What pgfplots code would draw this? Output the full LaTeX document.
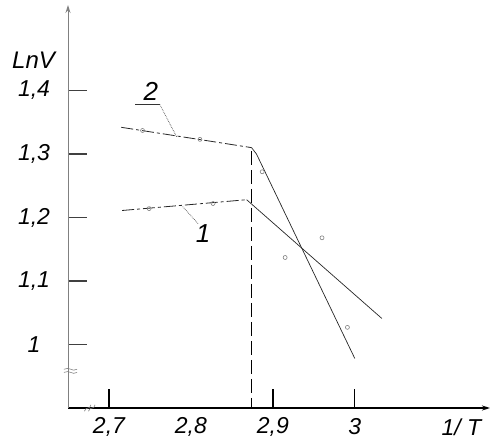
\documentclass[border=0pt]{standalone}
\usepackage{fontspec}
\setmainfont{Liberation Sans}
\usepackage{pgfplots}
\pgfplotsset{compat=1.18}
\usetikzlibrary{arrows.meta}
\begin{document}
\begin{tikzpicture}
\useasboundingbox (-68pt,-33pt) rectangle (434pt,408pt);
\begin{axis}[
  scale only axis, width=422pt, height=403pt,
  xmin=2.65, xmax=3.165, ymin=0.9, ymax=1.5346,
  axis lines=left,
  x axis line style={black, line width=1.6pt, -{Stealth[length=8pt,width=5pt]}},
  y axis line style={gray, line width=0.9pt, -{Stealth[length=8pt,width=5pt]}},
  tick align=inside, major tick length=19pt,
  xtick style={black, line width=1.3pt},
  ytick style={black!75, line width=1.5pt},
  xtick={2.7,2.9,3}, xticklabels={2{,}7,2{,}9,3},
  extra x ticks={2.8}, extra x tick labels={2{,}8},
  extra x tick style={major tick length=0pt},
  ytick={1,1.1,1.2,1.3,1.4}, yticklabels={1,1{,}1,1{,}2,1{,}3,1{,}4},
  ticklabel style={font=\fontsize{23}{26}\selectfont\itshape},
  xticklabel style={anchor=center, yshift=-19pt},
  yticklabel style={anchor=center, xshift=-34pt},
  clip=false,
]
% line 2 (flat + steep)
\addplot[black!85, line width=0.8pt, dash pattern=on 12pt off 3pt on 3pt off 3pt] coordinates {(2.715,1.342) (2.874,1.310)};
\addplot[black!85, line width=0.7pt] coordinates {(2.874,1.310) (2.880,1.300) (3.000,0.978)};
% line 1 (flat + steep)
\addplot[black!85, line width=0.8pt, dash pattern=on 12pt off 3pt on 3pt off 3pt] coordinates {(2.716,1.211) (2.868,1.228)};
\addplot[black!85, line width=0.7pt] coordinates {(2.868,1.228) (3.033,1.041)};
% experimental points
\addplot[only marks, mark=o, mark size=2pt, gray, mark options={line width=0.6pt}] coordinates {
 (2.741,1.337) (2.811,1.323) (2.887,1.272) (2.991,1.027)};
\addplot[only marks, mark=o, mark size=2pt, gray, mark options={line width=0.6pt}] coordinates {
 (2.749,1.214) (2.827,1.222) (2.915,1.137) (2.960,1.168)};
% vertical dashed line
\addplot[black, line width=0.8pt, dash pattern=on 14pt off 5pt] coordinates {(2.874,1.305) (2.874,0.9)};
% labels and leaders
\node[font=\fontsize{26}{28}\selectfont\itshape] at (axis cs:2.751,1.398) {2};
\draw[black!80, line width=0.8pt] (axis cs:2.732,1.378) -- (axis cs:2.762,1.378);
\draw[black!70, line width=0.7pt, densely dotted] (axis cs:2.762,1.378) -- (axis cs:2.783,1.326);
\node[font=\fontsize{26}{28}\selectfont\itshape] at (axis cs:2.815,1.175) {1};
\draw[black!70, line width=0.7pt, densely dotted] (axis cs:2.790,1.217) -- (axis cs:2.809,1.190);
\node[font=\fontsize{24}{26}\selectfont\itshape] at (axis cs:2.608,1.447) {LnV};
\node[font=\fontsize{23}{26}\selectfont\itshape] at (axis cs:3.130,0.870) {1/ T};
% axis break marks
\draw[gray, line width=0.6pt] (axis cs:2.645,0.961) .. controls (axis cs:2.652,0.966) and (axis cs:2.655,0.956) .. (axis cs:2.661,0.961);
\draw[gray, line width=0.6pt] (axis cs:2.645,0.956) .. controls (axis cs:2.652,0.961) and (axis cs:2.655,0.951) .. (axis cs:2.661,0.956);
\draw[gray, line width=0.6pt] (axis cs:2.670,0.895) .. controls (axis cs:2.672,0.903) and (axis cs:2.677,0.897) .. (axis cs:2.678,0.905);
\draw[gray, line width=0.6pt] (axis cs:2.675,0.895) .. controls (axis cs:2.677,0.903) and (axis cs:2.682,0.897) .. (axis cs:2.683,0.905);
\end{axis}
\end{tikzpicture}
\end{document}
